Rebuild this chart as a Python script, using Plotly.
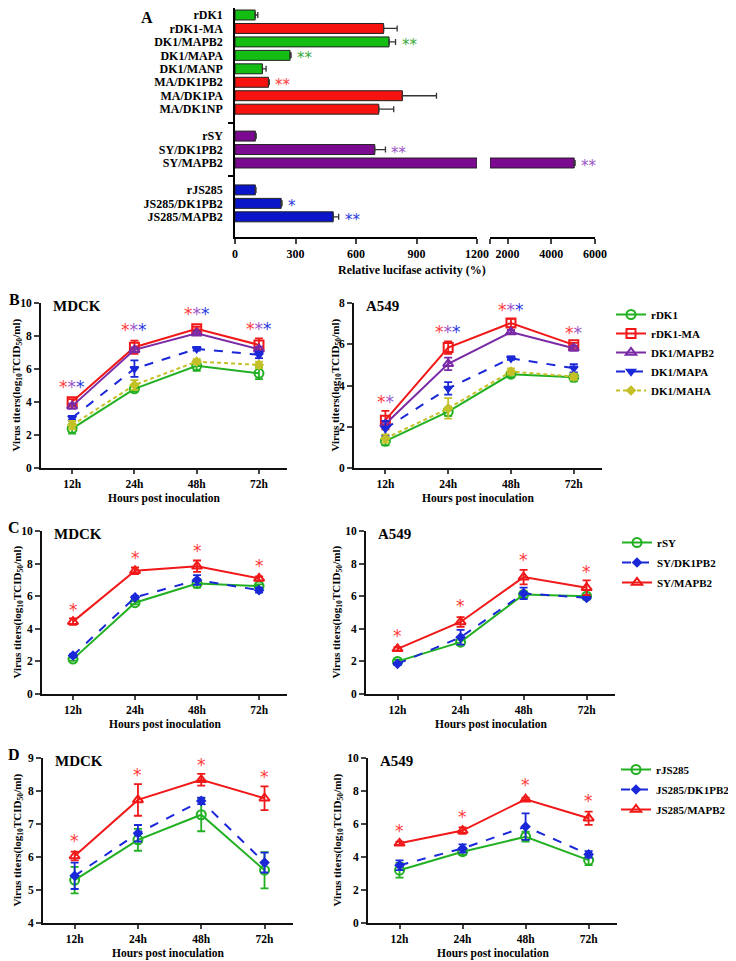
import plotly.graph_objects as go

W, H = 736, 961          # target page size
OFF = 8                  # default body margin of the html page
FW, FH = W - OFF, H - OFF
FONT = "Liberation Serif"

# ---------------- Panel A data ----------------
A_labels = ["rDK1", "rDK1-MA", "DK1/MAPB2", "DK1/MAPA", "DK1/MANP", "MA/DK1PB2",
            "MA/DK1PA", "MA/DK1NP", "rSY", "SY/DK1PB2", "SY/MAPB2",
            "rJS285", "JS285/DK1PB2", "JS285/MAPB2"]
A_group = [0, 0, 0, 0, 0, 0, 0, 0, 1, 1, 1, 2, 2, 2]
A_values = [100, 737, 764, 273, 136, 166, 830, 713, 101, 693, 5050, 101, 229, 487]
A_errors = [13, 67, 32, 5, 18, 4, 169, 74, 4, 53, 40, 3, 4, 27]
A_colors = ["#14bd14", "#f5120f", "#14bd14", "#14bd14", "#14bd14", "#f5120f",
            "#f5120f", "#f5120f", "#7c0a90", "#7c0a90", "#7c0a90",
            "#0a14c8", "#0a14c8", "#0a14c8"]
A_sig = ["", "", "**", "**", "", "**", "", "", "", "**", "**", "", "*", "**"]
A_sig_colors = ["", "", "#3aa83a", "#3aa83a", "", "#ff3a3a", "", "", "",
                "#9a55c8", "#9a55c8", "", "#2a3ae0", "#2a3ae0"]
A_ticks1 = [0, 300, 600, 900, 1200]
A_ticks2 = [1200, 2000, 4000, 6000]
A_ticktext2 = ["", "2000", "4000", "6000"]
A_break = [1200, 6000]

# ---------------- Panels B-D data ----------------
times = ["12h", "24h", "48h", "72h"]

# B  MDCK
B_mdck_rDK1 = [2.39, 4.80, 6.19, 5.74];  B_mdck_rDK1_err = [0.30, 0.15, 0.30, 0.35]
B_mdck_rDK1MA = [4.02, 7.32, 8.44, 7.46]; B_mdck_rDK1MA_err = [0.15, 0.40, 0.12, 0.40]
B_mdck_MAPB2 = [3.75, 7.16, 8.17, 7.20];  B_mdck_MAPB2_err = [0.15, 0.15, 0.12, 0.15]
B_mdck_MAPA = [3.04, 6.02, 7.22, 6.86];   B_mdck_MAPA_err = [0.12, 0.50, 0.10, 0.20]
B_mdck_MAHA = [2.60, 5.03, 6.45, 6.25];   B_mdck_MAHA_err = [0.25, 0.30, 0.15, 0.20]
B_mdck_star_y = [5.13, 8.58, 9.60, 8.68]
B_mdck_star_n = [3, 3, 3, 3]
# B  A549
B_a549_rDK1 = [1.30, 2.73, 4.55, 4.40];  B_a549_rDK1_err = [0.20, 0.20, 0.15, 0.20]
B_a549_rDK1MA = [2.32, 5.84, 7.03, 5.97]; B_a549_rDK1MA_err = [0.45, 0.30, 0.20, 0.10]
B_a549_MAPB2 = [2.13, 5.05, 6.59, 5.81];  B_a549_MAPB2_err = [0.15, 0.30, 0.10, 0.12]
B_a549_MAPA = [1.92, 3.86, 5.32, 4.84];   B_a549_MAPA_err = [0.35, 0.30, 0.08, 0.20]
B_a549_MAHA = [1.43, 2.89, 4.68, 4.43];   B_a549_MAHA_err = [0.20, 0.50, 0.15, 0.15]
B_a549_star_y = [3.38, 6.79, 7.87, 6.74]
B_a549_star_n = [2, 3, 3, 2]

# C  MDCK
C_mdck_rSY = [2.14, 5.60, 6.78, 6.62];    C_mdck_rSY_err = [0.10, 0.10, 0.25, 0.10]
C_mdck_DK1PB2 = [2.36, 5.93, 6.99, 6.37]; C_mdck_DK1PB2_err = [0.08, 0.08, 0.30, 0.15]
C_mdck_MAPB2 = [4.44, 7.56, 7.84, 7.09];  C_mdck_MAPB2_err = [0.20, 0.20, 0.35, 0.12]
C_mdck_star_y = [5.40, 8.57, 9.02, 8.10]
# C  A549
C_a549_rSY = [2.00, 3.18, 6.10, 6.00];    C_a549_rSY_err = [0.10, 0.15, 0.20, 0.10]
C_a549_DK1PB2 = [1.85, 3.48, 6.17, 5.90]; C_a549_DK1PB2_err = [0.08, 0.45, 0.35, 0.10]
C_a549_MAPB2 = [2.77, 4.42, 7.17, 6.52];  C_a549_MAPB2_err = [0.10, 0.30, 0.45, 0.45]
C_a549_star_y = [3.83, 5.62, 8.45, 7.76]

# D  MDCK
D_mdck_rJS = [5.30, 6.52, 7.28, 5.60];     D_mdck_rJS_err = [0.40, 0.33, 0.50, 0.55]
D_mdck_DK1PB2 = [5.43, 6.72, 7.70, 5.83];  D_mdck_DK1PB2_err = [0.40, 0.25, 0.10, 0.30]
D_mdck_MAPB2 = [6.03, 7.73, 8.34, 7.78];   D_mdck_MAPB2_err = [0.13, 0.48, 0.18, 0.36]
D_mdck_star_y = [6.62, 8.60, 8.92, 8.56]
# D  A549
D_a549_rJS = [3.20, 4.32, 5.23, 3.81];     D_a549_rJS_err = [0.45, 0.20, 0.30, 0.30]
D_a549_DK1PB2 = [3.50, 4.52, 5.84, 4.16];  D_a549_DK1PB2_err = [0.30, 0.25, 0.80, 0.20]
D_a549_MAPB2 = [4.83, 5.60, 7.50, 6.35];   D_a549_MAPB2_err = [0.10, 0.20, 0.10, 0.40]
D_a549_star_y = [5.84, 6.65, 8.62, 7.63]

# ---------------- styles ----------------
GREEN, RED, PURPLE, BLUE, OLIVE = "#22b022", "#f01818", "#7a2aa6", "#1a28d8", "#c4c028"
STAR_RED, STAR_PURPLE, STAR_BLUE = "#ff3a3a", "#9a55c8", "#2a3ae0"
STY = {
    "green":  dict(color=GREEN, symbol="circle-open", size=9, dash="solid"),
    "red_sq": dict(color=RED, symbol="square-open", size=9, dash="solid"),
    "pur_tri": dict(color=PURPLE, symbol="triangle-up-open", size=9, dash="solid"),
    "blue_dn": dict(color=BLUE, symbol="triangle-down", size=7, dash="dash"),
    "olive":  dict(color=OLIVE, symbol="diamond", size=6, dash="4px,3px"),
    "blue_dot": dict(color=BLUE, symbol="diamond", size=6, dash="dash"),
    "red_tri": dict(color=RED, symbol="triangle-up-open", size=9, dash="solid"),
}


def px(x):
    return min(1.0, max(0.0, (x - OFF) / FW))


def py(y):
    return min(1.0, max(0.0, 1 - (y - OFF) / FH))


def xd(a, b):
    return [px(a), px(b)]


def yd(top, bottom):
    return [py(bottom), py(top)]


fig = go.Figure()
BOLD = dict(family=FONT, size=11.5, color="black", weight="bold")
BOLD12 = dict(family=FONT, size=12, color="black", weight="bold")

# ---------------- Panel A ----------------
A_pos = [i + g for i, g in enumerate(A_group)]
lim1 = A_break[0]
fig.add_trace(go.Bar(
    orientation="h", y=A_pos, x=[min(v, lim1) for v in A_values],
    error_x=dict(type="data", symmetric=False,
                 array=[e if v < lim1 else 0 for v, e in zip(A_values, A_errors)],
                 arrayminus=[0] * len(A_values), color="#333333", thickness=1.3, width=3),
    marker=dict(color=A_colors, line=dict(color="#202020", width=1)),
    width=0.74, xaxis="x", yaxis="y", showlegend=False))
big = [i for i, v in enumerate(A_values) if v > lim1]
fig.add_trace(go.Bar(
    orientation="h", y=[A_pos[i] for i in big], x=[A_values[i] - lim1 for i in big],
    base=[lim1 for _ in big],
    error_x=dict(type="data", symmetric=False, array=[A_errors[i] for i in big],
                 arrayminus=[0 for _ in big], color="#333333", thickness=1.3, width=3),
    marker=dict(color=[A_colors[i] for i in big], line=dict(color="#202020", width=1)),
    width=0.74, xaxis="x2", yaxis="y", showlegend=False))

for i, s in enumerate(A_sig):
    if not s:
        continue
    over = A_values[i] > lim1
    fig.add_annotation(x=A_values[i] + A_errors[i], y=A_pos[i], xref="x2" if over else "x",
                       yref="y", text=s, showarrow=False, xanchor="left", yanchor="middle",
                       xshift=4, yshift=-3,
                       font=dict(family="DejaVu Sans", size=15, color=A_sig_colors[i]))

fig.update_layout(
    xaxis=dict(domain=xd(235, 477), range=[0, lim1], tickvals=A_ticks1, anchor="y",
               showline=True, linecolor="black", linewidth=1.5, ticks="outside",
               ticklen=5, tickwidth=1.5, tickfont=BOLD12, showgrid=False, zeroline=False),
    xaxis2=dict(domain=xd(490, 595), range=A_break, tickvals=A_ticks2, ticktext=A_ticktext2,
                anchor="y", showline=True, linecolor="black", linewidth=1.5, ticks="outside",
                ticklen=5, tickwidth=1.5, tickfont=BOLD12, showgrid=False, zeroline=False),
    yaxis=dict(domain=yd(8, 237), range=[16.5, -0.52], tickvals=A_pos, ticktext=A_labels,
               anchor="x", showline=True, linecolor="black", linewidth=1.5, ticks="",
               ticklabelstandoff=8, ticklabeloverflow="allow", tickfont=BOLD12,
               showgrid=False, zeroline=False,
               minor=dict(tickmode="array", tickvals=[8, 12], ticks="outside",
                          ticklen=5, tickwidth=1.5, tickcolor="black", showgrid=False)),
)
fig.add_annotation(x=px(412), y=py(270), xref="paper", yref="paper", xanchor="center",
                   yanchor="middle", text="Relative lucifase activity (%)", showarrow=False,
                   font=BOLD12)
fig.add_annotation(x=px(147), y=py(17), xref="paper", yref="paper", text="A",
                   xanchor="center", yanchor="middle", showarrow=False,
                   font=dict(family=FONT, size=16, weight="bold", color="black"))

# ---------------- Line panels ----------------
panels = [
    dict(label="B", cell="MDCK", x=(41, 287), y=(303, 468), yr=(0, 10), dt=2, tx=17,
         series=[("rDK1", B_mdck_rDK1, B_mdck_rDK1_err, "green"),
                 ("rDK1-MA", B_mdck_rDK1MA, B_mdck_rDK1MA_err, "red_sq"),
                 ("DK1/MAPB2", B_mdck_MAPB2, B_mdck_MAPB2_err, "pur_tri"),
                 ("DK1/MAPA", B_mdck_MAPA, B_mdck_MAPA_err, "blue_dn"),
                 ("DK1/MAHA", B_mdck_MAHA, B_mdck_MAHA_err, "olive")],
         stars=(B_mdck_star_y, [[STAR_RED, STAR_PURPLE, STAR_BLUE][:n] for n in B_mdck_star_n]),
         legend=None),
    dict(label=None, cell="A549", x=(354, 602), y=(303, 468), yr=(0, 8), dt=2, tx=336,
         series=[("rDK1", B_a549_rDK1, B_a549_rDK1_err, "green"),
                 ("rDK1-MA", B_a549_rDK1MA, B_a549_rDK1MA_err, "red_sq"),
                 ("DK1/MAPB2", B_a549_MAPB2, B_a549_MAPB2_err, "pur_tri"),
                 ("DK1/MAPA", B_a549_MAPA, B_a549_MAPA_err, "blue_dn"),
                 ("DK1/MAHA", B_a549_MAHA, B_a549_MAHA_err, "olive")],
         stars=(B_a549_star_y, [[STAR_RED, STAR_PURPLE, STAR_BLUE][:n] for n in B_a549_star_n]),
         legend=("legend", 611, 300, 0)),
    dict(label="C", cell="MDCK", x=(42, 287), y=(531, 694), yr=(0, 10), dt=2, tx=17,
         series=[("rSY", C_mdck_rSY, C_mdck_rSY_err, "green"),
                 ("SY/DK1PB2", C_mdck_DK1PB2, C_mdck_DK1PB2_err, "blue_dot"),
                 ("SY/MAPB2", C_mdck_MAPB2, C_mdck_MAPB2_err, "red_tri")],
         stars=(C_mdck_star_y, [[STAR_RED]] * 4), legend=None),
    dict(label=None, cell="A549", x=(366, 615), y=(531, 694), yr=(0, 10), dt=2, tx=336,
         series=[("rSY", C_a549_rSY, C_a549_rSY_err, "green"),
                 ("SY/DK1PB2", C_a549_DK1PB2, C_a549_DK1PB2_err, "blue_dot"),
                 ("SY/MAPB2", C_a549_MAPB2, C_a549_MAPB2_err, "red_tri")],
         stars=(C_a549_star_y, [[STAR_RED]] * 4), legend=("legend2", 617, 528, 1)),
    dict(label="D", cell="MDCK", x=(43, 293), y=(758, 923), yr=(4, 9), dt=1, tx=17,
         series=[("rJS285", D_mdck_rJS, D_mdck_rJS_err, "green"),
                 ("JS285/DK1PB2", D_mdck_DK1PB2, D_mdck_DK1PB2_err, "blue_dot"),
                 ("JS285/MAPB2", D_mdck_MAPB2, D_mdck_MAPB2_err, "red_tri")],
         stars=(D_mdck_star_y, [[STAR_RED]] * 4), legend=None),
    dict(label=None, cell="A549", x=(368, 617), y=(758, 923), yr=(0, 10), dt=2, tx=337,
         series=[("rJS285", D_a549_rJS, D_a549_rJS_err, "green"),
                 ("JS285/DK1PB2", D_a549_DK1PB2, D_a549_DK1PB2_err, "blue_dot"),
                 ("JS285/MAPB2", D_a549_MAPB2, D_a549_MAPB2_err, "red_tri")],
         stars=(D_a549_star_y, [[STAR_RED]] * 4), legend=("legend3", 616, 755, 1)),
]

ytitle = "Virus titers(log<sub>10</sub>TCID<sub>50</sub>/ml)"
for k, p in enumerate(panels):
    xa, ya = f"x{k + 3}", f"y{k + 2}"
    xname, yname = f"xaxis{k + 3}", f"yaxis{k + 2}"
    lg = p["legend"][0] if p["legend"] else None
    for name, vals, errs, sty in p["series"]:
        s = STY[sty]
        fig.add_trace(go.Scatter(
            x=times, y=vals, name=name, mode="lines+markers", xaxis=xa, yaxis=ya,
            line=dict(color=s["color"], width=2, dash=s["dash"]),
            marker=dict(symbol=s["symbol"], size=s["size"], color=s["color"],
                        line=dict(color=s["color"], width=2)),
            error_y=dict(type="data", array=errs, color=s["color"], thickness=1.8, width=4),
            legendgroup=f"{lg}-{name}",
            showlegend=lg is not None, legend=lg if lg else "legend"))
    y0, y1 = p["yr"]
    fig.update_layout({
        xname: dict(domain=xd(*p["x"]), range=[-0.5, 3.45], anchor=ya, type="category",
                    showline=True, linecolor="#111", linewidth=2, ticks="outside", ticklen=4,
                    tickwidth=2, tickfont=BOLD, showgrid=False, zeroline=False),
        yname: dict(domain=yd(*p["y"]), range=[y0, y1], anchor=xa, dtick=p["dt"],
                    tick0=y0, showline=True, linecolor="#111", linewidth=2, ticks="outside",
                    ticklen=5, tickwidth=2, tickfont=BOLD, showgrid=False, zeroline=False),
    })
    xl, xr = p["x"]
    top, bot = p["y"]
    fig.add_annotation(x=px((xl + xr) / 2), y=py(bot + 30), xref="paper", yref="paper",
                       xanchor="center", yanchor="middle",
                       text="Hours post inoculation", showarrow=False, font=BOLD)
    fig.add_annotation(x=px(p["tx"]), y=py((top + bot) / 2), xref="paper", yref="paper",
                       xanchor="center", yanchor="middle",
                       text=ytitle, textangle=-90, showarrow=False,
                       font=dict(family=FONT, size=11, color="black", weight="bold"))
    fig.add_annotation(x=px(xl + 10), y=py(top + 3), xref="paper", yref="paper",
                       text=p["cell"], showarrow=False, xanchor="left", yanchor="middle",
                       font=dict(family=FONT, size=15, weight="bold", color="black"))
    if p["label"]:
        fig.add_annotation(x=px(14), y=py(top - 4), xref="paper", yref="paper",
                           text=p["label"], showarrow=False, xanchor="center", yanchor="middle",
                           font=dict(family=FONT, size=16, weight="bold", color="black"))
    sy, scol = p["stars"]
    for t, yv, cols in zip(times, sy, scol):
        txt = "".join(f'<span style="color:{c}">*</span>' for c in cols)
        fig.add_annotation(x=t, y=yv, xref=xa, yref=ya, text=txt, showarrow=False,
                           xanchor="center", yanchor="middle", yshift=-4,
                           font=dict(family="DejaVu Sans", size=17, color=STAR_RED))
    if p["legend"]:
        name, lx, ly, gap = p["legend"]
        fig.update_layout({name: dict(x=px(lx), y=py(ly), xanchor="left", yanchor="top",
                                      bgcolor="rgba(0,0,0,0)", tracegroupgap=gap,
                                      font=dict(family=FONT, size=11, color="black",
                                                weight="bold"),
                                      itemwidth=30)})

fig.update_layout(width=FW, height=FH,
                  margin=dict(l=0, r=0, t=0, b=0, autoexpand=False),
                  paper_bgcolor="white", plot_bgcolor="white", bargap=0.2)
fig.write_html("out.html")
